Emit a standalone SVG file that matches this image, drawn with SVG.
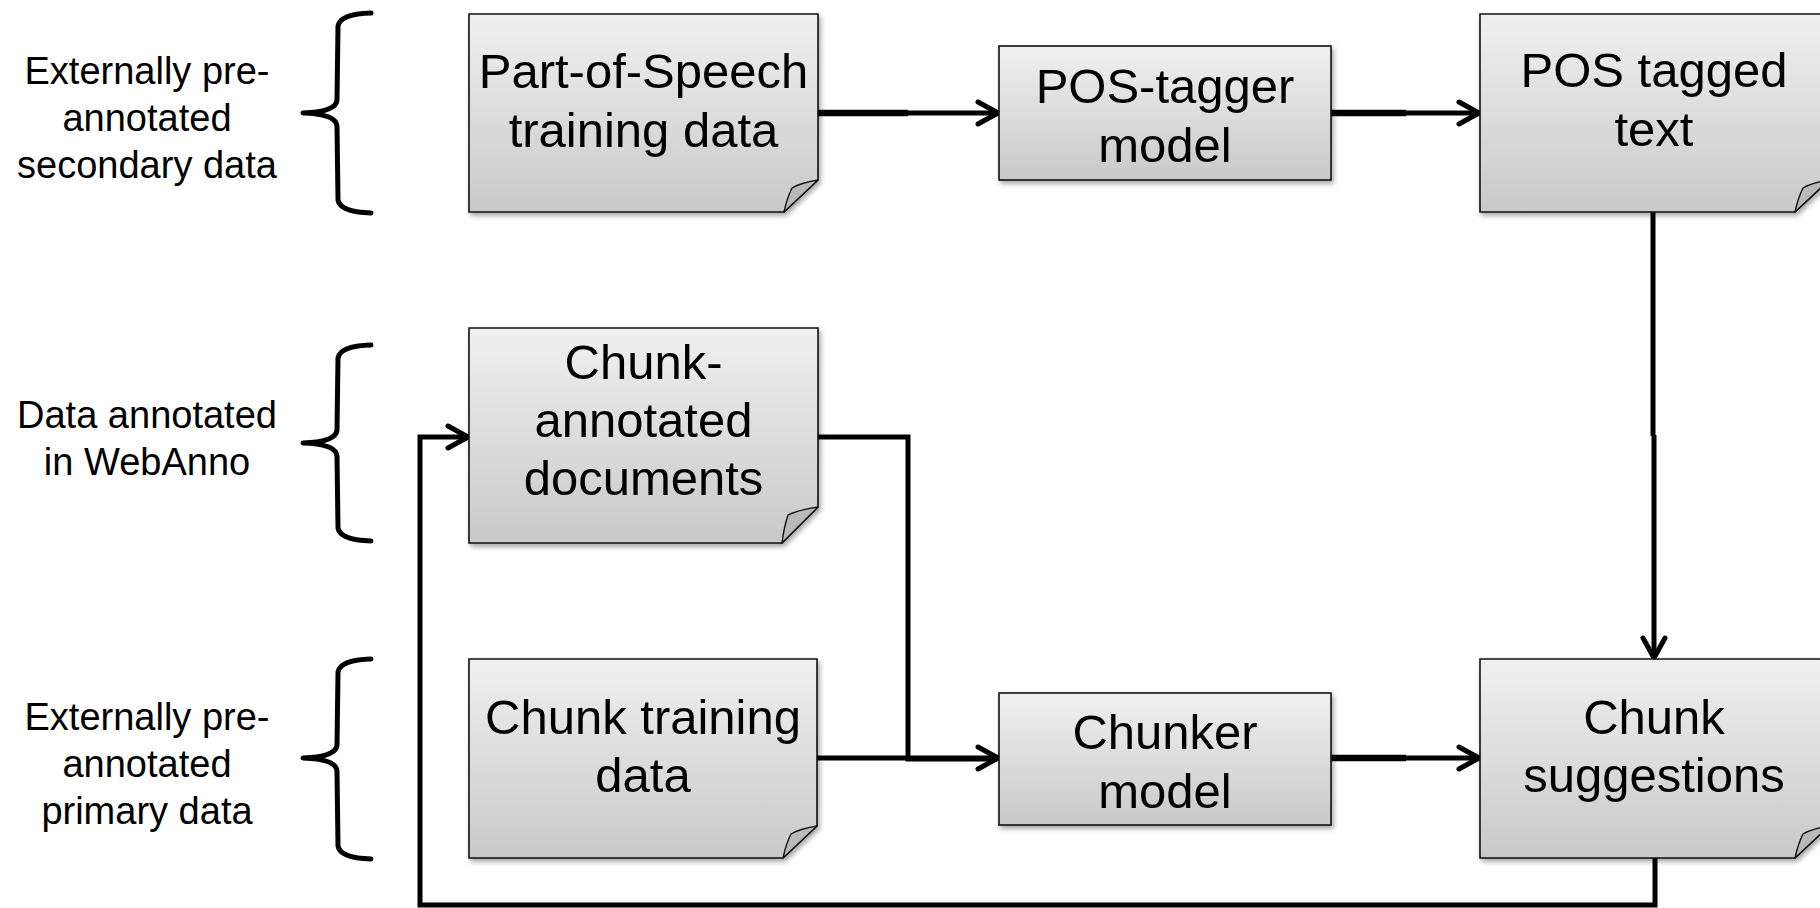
<svg xmlns="http://www.w3.org/2000/svg" width="1820" height="908" viewBox="0 0 1820 908">
  <style>
    .doc, .box { fill: url(#paper); stroke: #111; stroke-width: 1.6; filter: url(#shadow); }
    .flap { fill: #b9b9b9; stroke: #111; stroke-width: 1.4; stroke-linejoin: round; }
    .label { font-family: "Liberation Sans", Arial, sans-serif; font-size: 49px; fill: #000; text-anchor: middle; }
    .side { font-family: "Liberation Sans", Arial, sans-serif; font-size: 38px; fill: #000; text-anchor: middle; }
    .brace { fill: none; stroke: #000; stroke-width: 5; stroke-linecap: round; stroke-linejoin: round; }
    .wire { fill: none; stroke: #000; stroke-width: 5; stroke-linejoin: miter; }
    .wire.heavy { stroke-width: 6.5; }
    .wire.arrow { marker-end: url(#chevron); }
  </style>
  <defs>
    <linearGradient id="paper" x1="0" y1="0" x2="0" y2="1">
      <stop offset="0" stop-color="#f0f0f0"/>
      <stop offset="1" stop-color="#c9c9c9"/>
    </linearGradient>
    <filter id="shadow" x="-10%" y="-10%" width="125%" height="130%">
      <feDropShadow dx="2" dy="3" stdDeviation="2.5" flood-color="#000" flood-opacity="0.35"/>
    </filter>
    <marker id="chevron" markerUnits="userSpaceOnUse" markerWidth="30" markerHeight="30" viewBox="-4 -15 30 30" refX="21" refY="0" orient="auto" overflow="visible">
      <path d="M0,-11 L20,0 L0,11" fill="none" stroke="#000" stroke-width="5" stroke-linecap="round" stroke-linejoin="round"/>
    </marker>
  </defs>

  <!-- side captions with braces -->
  <g id="group-secondary">
    <text class="side" x="147" y="84">Externally pre-</text>
    <text class="side" x="147" y="131">annotated</text>
    <text class="side" x="147" y="178">secondary data</text>
    <path class="brace" d="M371,13 Q340,14 338,26 L337,100 Q336,112 303,113 Q336,114 337,126 L338,200 Q340,212 371,213"/>
  </g>
  <g id="group-webanno">
    <text class="side" x="147" y="428">Data annotated</text>
    <text class="side" x="147" y="475">in WebAnno</text>
    <path class="brace" d="M371,345 Q340,346 338,358 L337,430 Q336,442 303,443 Q336,444 337,456 L338,528 Q340,540 371,541"/>
  </g>
  <g id="group-primary">
    <text class="side" x="147" y="730">Externally pre-</text>
    <text class="side" x="147" y="777">annotated</text>
    <text class="side" x="147" y="824">primary data</text>
    <path class="brace" d="M371,659 Q340,660 338,672 L337,745 Q336,757 303,758 Q336,759 337,771 L338,846 Q340,858 371,859"/>
  </g>

  <!-- connectors -->
  <g id="connectors">
    <path class="wire heavy" d="M818,113 H908"/>
    <path class="wire arrow" d="M907,113 H999"/>
    <path class="wire heavy" d="M1331,113 H1406"/>
    <path class="wire arrow" d="M1405,113 H1480"/>
    <path class="wire" d="M1653,212 V436"/>
    <path class="wire arrow" d="M1654,435 V659"/>
    <path class="wire" d="M818,437 H908 V759 H997"/>
    <path class="wire arrow" d="M817,758 H999"/>
    <path class="wire heavy" d="M1331,758 H1406"/>
    <path class="wire arrow" d="M1405,758 H1480"/>
    <path class="wire arrow" d="M1655,858 V905 H420 V437 H469"/>
  </g>

  <!-- nodes -->
  <g id="pos-training-data">
    <path class="doc" d="M469,14 H818 V180 L784,212 H469 Z"/>
    <path class="flap" d="M818,180 Q800,183 792,188 Q787,198 784,212 Z"/>
    <text class="label" x="643.5" y="88">Part-of-Speech</text>
    <text class="label" x="643.5" y="147">training data</text>
  </g>
  <g id="pos-tagger-model">
    <rect class="box" x="999" y="46" width="332" height="134"/>
    <text class="label" x="1165" y="103">POS-tagger</text>
    <text class="label" x="1165" y="162">model</text>
  </g>
  <g id="pos-tagged-text">
    <path class="doc" d="M1480,14 H1829 V180 L1795,212 H1480 Z"/>
    <path class="flap" d="M1829,180 Q1811,183 1803,188 Q1798,198 1795,212 Z"/>
    <text class="label" x="1654" y="87">POS tagged</text>
    <text class="label" x="1654" y="146">text</text>
  </g>
  <g id="chunk-annotated-documents">
    <path class="doc" d="M469,328 H818 V507 L782,543 H469 Z"/>
    <path class="flap" d="M818,507 Q798,510 788,515 Q784,527 782,543 Z"/>
    <text class="label" x="643.5" y="379">Chunk-</text>
    <text class="label" x="643.5" y="437">annotated</text>
    <text class="label" x="643.5" y="495">documents</text>
  </g>
  <g id="chunk-training-data">
    <path class="doc" d="M469,659 H817 V826 L783,858 H469 Z"/>
    <path class="flap" d="M817,826 Q799,829 791,834 Q786,844 783,858 Z"/>
    <text class="label" x="643" y="734">Chunk training</text>
    <text class="label" x="643" y="792">data</text>
  </g>
  <g id="chunker-model">
    <rect class="box" x="999" y="693" width="332" height="132"/>
    <text class="label" x="1165" y="749">Chunker</text>
    <text class="label" x="1165" y="808">model</text>
  </g>
  <g id="chunk-suggestions">
    <path class="doc" d="M1480,659 H1829 V826 L1795,858 H1480 Z"/>
    <path class="flap" d="M1829,826 Q1811,829 1803,834 Q1798,844 1795,858 Z"/>
    <text class="label" x="1654" y="734">Chunk</text>
    <text class="label" x="1654" y="792">suggestions</text>
  </g>
</svg>
